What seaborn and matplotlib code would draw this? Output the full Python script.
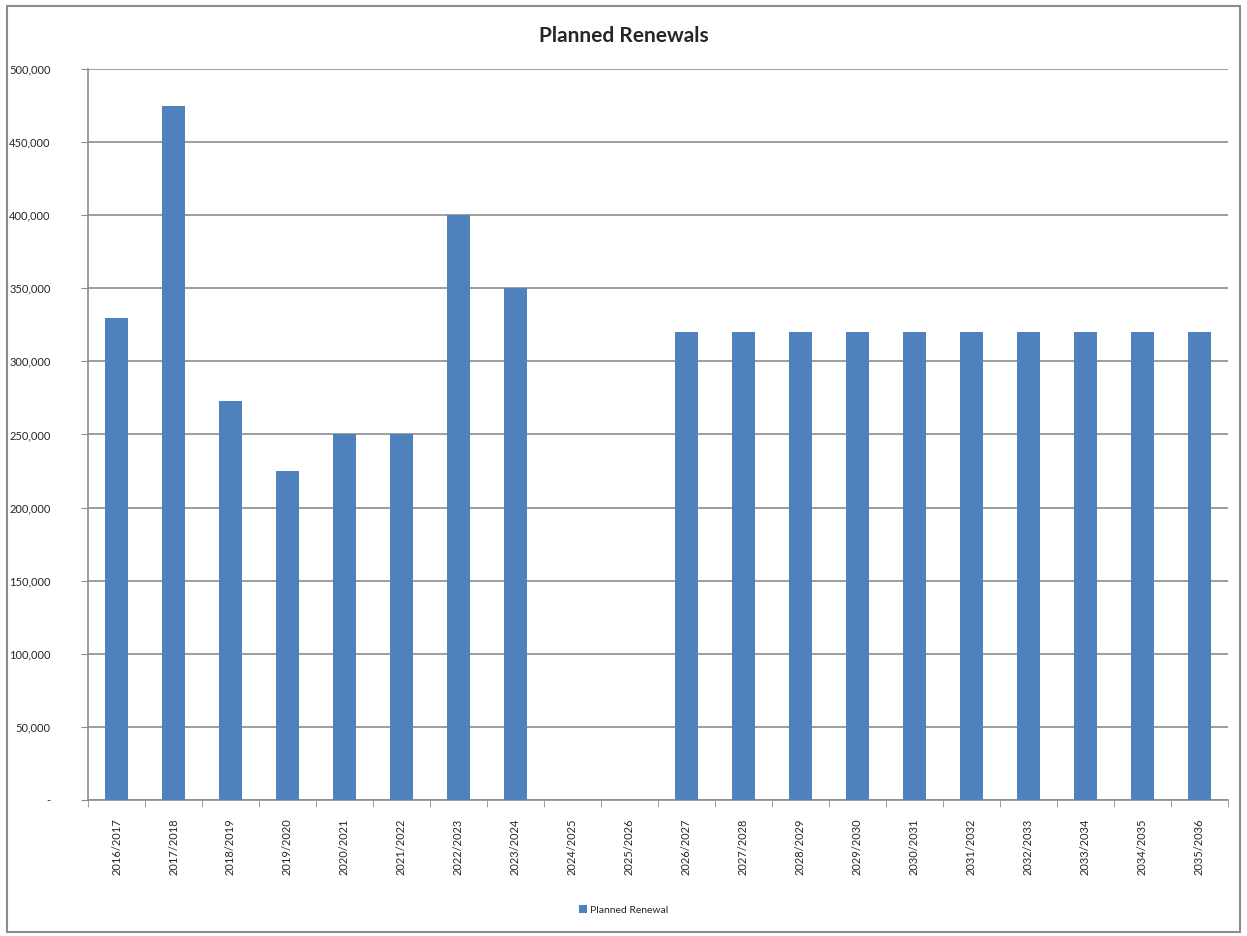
import matplotlib
matplotlib.use("Agg")
import matplotlib.pyplot as plt
import matplotlib.ticker as mticker
import seaborn as sns
import numpy as np

periods = ["2016/2017", "2017/2018", "2018/2019", "2019/2020", "2020/2021",
           "2021/2022", "2022/2023", "2023/2024", "2024/2025", "2025/2026",
           "2026/2027", "2027/2028", "2028/2029", "2029/2030", "2030/2031",
           "2031/2032", "2032/2033", "2033/2034", "2034/2035", "2035/2036"]
renewals = [330000, 475000, 273000, 225000, 250000, 250000, 400000, 350000, 0, 0,
            320000, 320000, 320000, 320000, 320000, 320000, 320000, 320000, 320000, 320000]
yticks = [0, 50000, 100000, 150000, 200000, 250000, 300000, 350000, 400000, 450000, 500000]

sns.set_style("white")
plt.rcParams["font.family"] = ["Lato", "DejaVu Sans"]

fig = plt.figure(figsize=(12.47, 9.36), dpi=100)
ax = fig.add_axes([0.0706, 0.1453, 0.914, 0.781])

sns.barplot(x=periods, y=renewals, color="#4F81BD", saturation=1, width=0.4,
            linewidth=0, label="Planned Renewal", ax=ax, zorder=3)

ax.set_ylim(0, 500000)
ax.set_xlim(-0.5, len(periods) - 0.5)
ax.set_yticks(yticks)
ax.yaxis.set_major_formatter(mticker.FuncFormatter(lambda v, p: "-" if v == 0 else f"{int(v):,}"))
ax.grid(axis="y", color="#8C8C8C", linewidth=1.2, zorder=0)
ax.set_axisbelow(True)

for s in ["top", "right"]:
    ax.spines[s].set_visible(False)
for s in ["left", "bottom"]:
    ax.spines[s].set_color("#8C8C8C")
    ax.spines[s].set_linewidth(1.2)

ax.tick_params(axis="y", left=True, length=5, color="#8C8C8C", labelsize=8, pad=22)
ax.tick_params(axis="x", bottom=False, labelsize=8, rotation=90, pad=10)
ax.set_xticks(np.arange(-0.5, len(periods), 1), minor=True)
ax.tick_params(axis="x", which="minor", bottom=True, length=5, color="#8C8C8C")
ax.set_xlabel("")
ax.set_ylabel("")

fig.text(0.5, 0.962, "Planned Renewals", ha="center", va="center", fontsize=15, fontweight="bold")

ax.legend(loc="center", bbox_to_anchor=(0.5, 0.028), bbox_transform=fig.transFigure,
          frameon=False, fontsize=7.5, handlelength=0.8, handleheight=0.8, handletextpad=0.3)

border = plt.Rectangle((0.006, 0.004), 0.988, 0.99, transform=fig.transFigure,
                       fill=False, edgecolor="#8C8C8C", linewidth=1.5)
fig.patches.append(border)

fig.savefig("out.png", dpi=100)
